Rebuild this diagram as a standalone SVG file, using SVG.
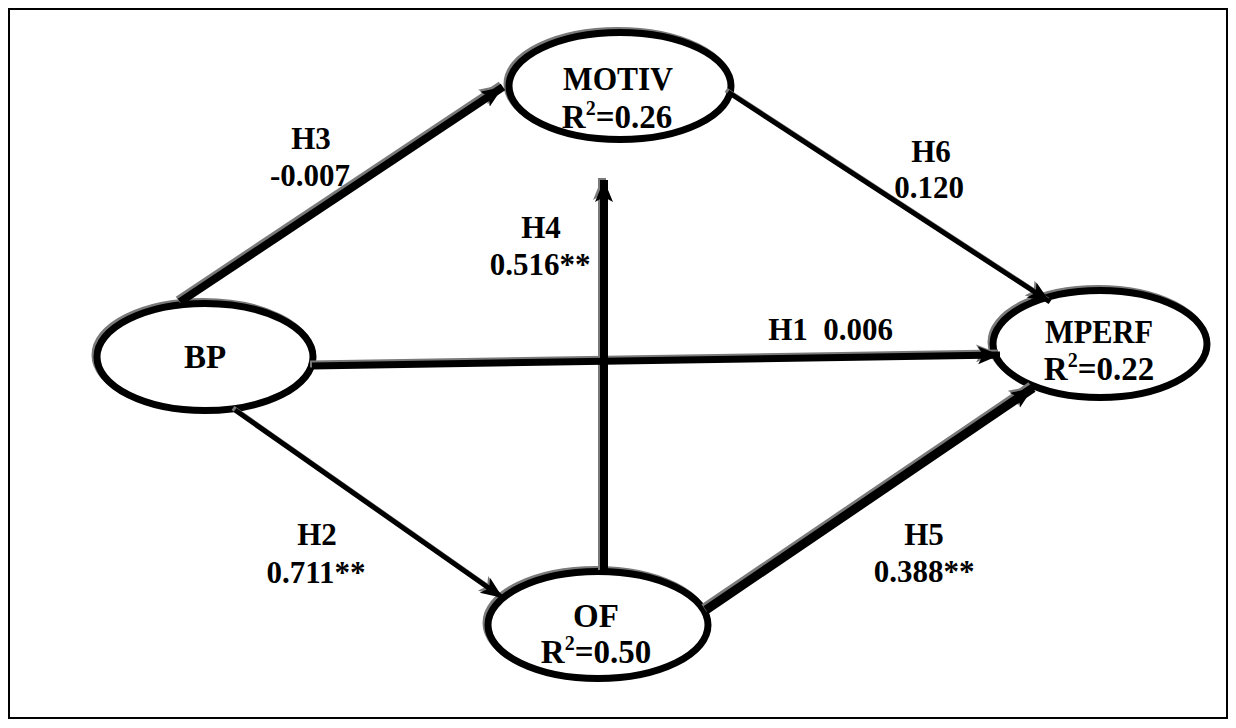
<svg xmlns="http://www.w3.org/2000/svg" width="1236" height="728" viewBox="0 0 1236 728">
<style>
.lbl{font-family:"Liberation Serif","Times New Roman",serif;font-weight:bold;font-size:31px;text-anchor:middle;fill:#000}
.nt{font-size:33px}
.sup{font-size:20px}
.node{fill:#fff;stroke:#000;stroke-width:7}
.nsh{fill:none;stroke:#7a7a7a;stroke-width:7}
.edge{stroke:#000;fill:none;marker-end:url(#ah)}
.esh{stroke:#7a7a7a;fill:none;marker-end:url(#ahs)}
</style>
<defs>
<marker id="ah" markerUnits="userSpaceOnUse" markerWidth="26" markerHeight="22" refX="22" refY="9" orient="auto"><path d="M0,0 L22,9 L0,18 L5,9 z" fill="#000"/></marker>
<marker id="ahs" markerUnits="userSpaceOnUse" markerWidth="26" markerHeight="22" refX="22" refY="9" orient="auto"><path d="M0,0 L22,9 L0,18 L5,9 z" fill="#7a7a7a"/></marker>
</defs>
<rect x="9" y="9" width="1218" height="709" fill="#fff" stroke="#000" stroke-width="2"/>

<g id="node-MOTIV">
<ellipse class="nsh" cx="618" cy="84" rx="111" ry="53.5"/>
<ellipse class="node" cx="620" cy="86" rx="111" ry="53.5"/>
<text class="lbl nt" x="618" y="90" textLength="110" lengthAdjust="spacingAndGlyphs">MOTIV</text>
<text class="lbl nt" x="617" y="128">R<tspan class="sup" dy="-13">2</tspan><tspan dy="13">=0.26</tspan></text>
</g>
<g id="node-BP">
<ellipse class="nsh" cx="203" cy="355" rx="108" ry="53.5"/>
<ellipse class="node" cx="205" cy="357" rx="108" ry="53.5"/>
<text class="lbl nt" x="205" y="368">BP</text>
</g>
<g id="node-MPERF">
<ellipse class="nsh" cx="1098" cy="342" rx="107" ry="53.5"/>
<ellipse class="node" cx="1100" cy="344" rx="107" ry="53.5"/>
<text class="lbl nt" x="1099" y="343" textLength="108" lengthAdjust="spacingAndGlyphs">MPERF</text>
<text class="lbl nt" x="1099" y="380">R<tspan class="sup" dy="-13">2</tspan><tspan dy="13">=0.22</tspan></text>
</g>
<g id="node-OF">
<ellipse class="nsh" cx="596" cy="623" rx="110" ry="53.5"/>
<ellipse class="node" cx="598" cy="625" rx="110" ry="53.5"/>
<text class="lbl nt" x="596" y="627">OF</text>
<text class="lbl nt" x="596" y="663">R<tspan class="sup" dy="-13">2</tspan><tspan dy="13">=0.50</tspan></text>
</g>

<g id="connectors">
<g transform="translate(-2,-2)">
<line class="esh" x1="180" y1="302" x2="503" y2="87" stroke-width="8"/>
<line class="esh" x1="728" y1="92" x2="1050" y2="302" stroke-width="5"/>
<line class="esh" x1="312" y1="366" x2="1000" y2="355" stroke-width="7"/>
<line class="esh" x1="235" y1="410" x2="503" y2="598" stroke-width="5"/>
<line class="esh" x1="604" y1="572" x2="604" y2="180" stroke-width="8"/>
<line class="esh" x1="706" y1="610" x2="1033" y2="388" stroke-width="9"/>
</g>
<line id="e-H3" class="edge" x1="180" y1="302" x2="503" y2="87" stroke-width="8"/>
<line id="e-H6" class="edge" x1="728" y1="92" x2="1050" y2="302" stroke-width="5"/>
<line id="e-H1" class="edge" x1="312" y1="366" x2="1000" y2="355" stroke-width="7"/>
<line id="e-H2" class="edge" x1="235" y1="410" x2="503" y2="598" stroke-width="5"/>
<line id="e-H4" class="edge" x1="604" y1="572" x2="604" y2="180" stroke-width="8"/>
<line id="e-H5" class="edge" x1="706" y1="610" x2="1033" y2="388" stroke-width="9"/>
</g>

<g id="edge-labels">
<text class="lbl" x="311" y="149">H3</text>
<text class="lbl" x="310" y="186">-0.007</text>
<text class="lbl" x="541" y="238">H4</text>
<text class="lbl" x="540" y="275">0.516**</text>
<text class="lbl" x="931" y="162">H6</text>
<text class="lbl" x="929" y="198">0.120</text>
<text class="lbl" x="893" y="340" style="text-anchor:end" xml:space="preserve">H1  0.006</text>
<text class="lbl" x="317" y="545">H2</text>
<text class="lbl" x="316" y="583">0.711**</text>
<text class="lbl" x="924" y="545">H5</text>
<text class="lbl" x="924" y="582">0.388**</text>
</g>
</svg>
